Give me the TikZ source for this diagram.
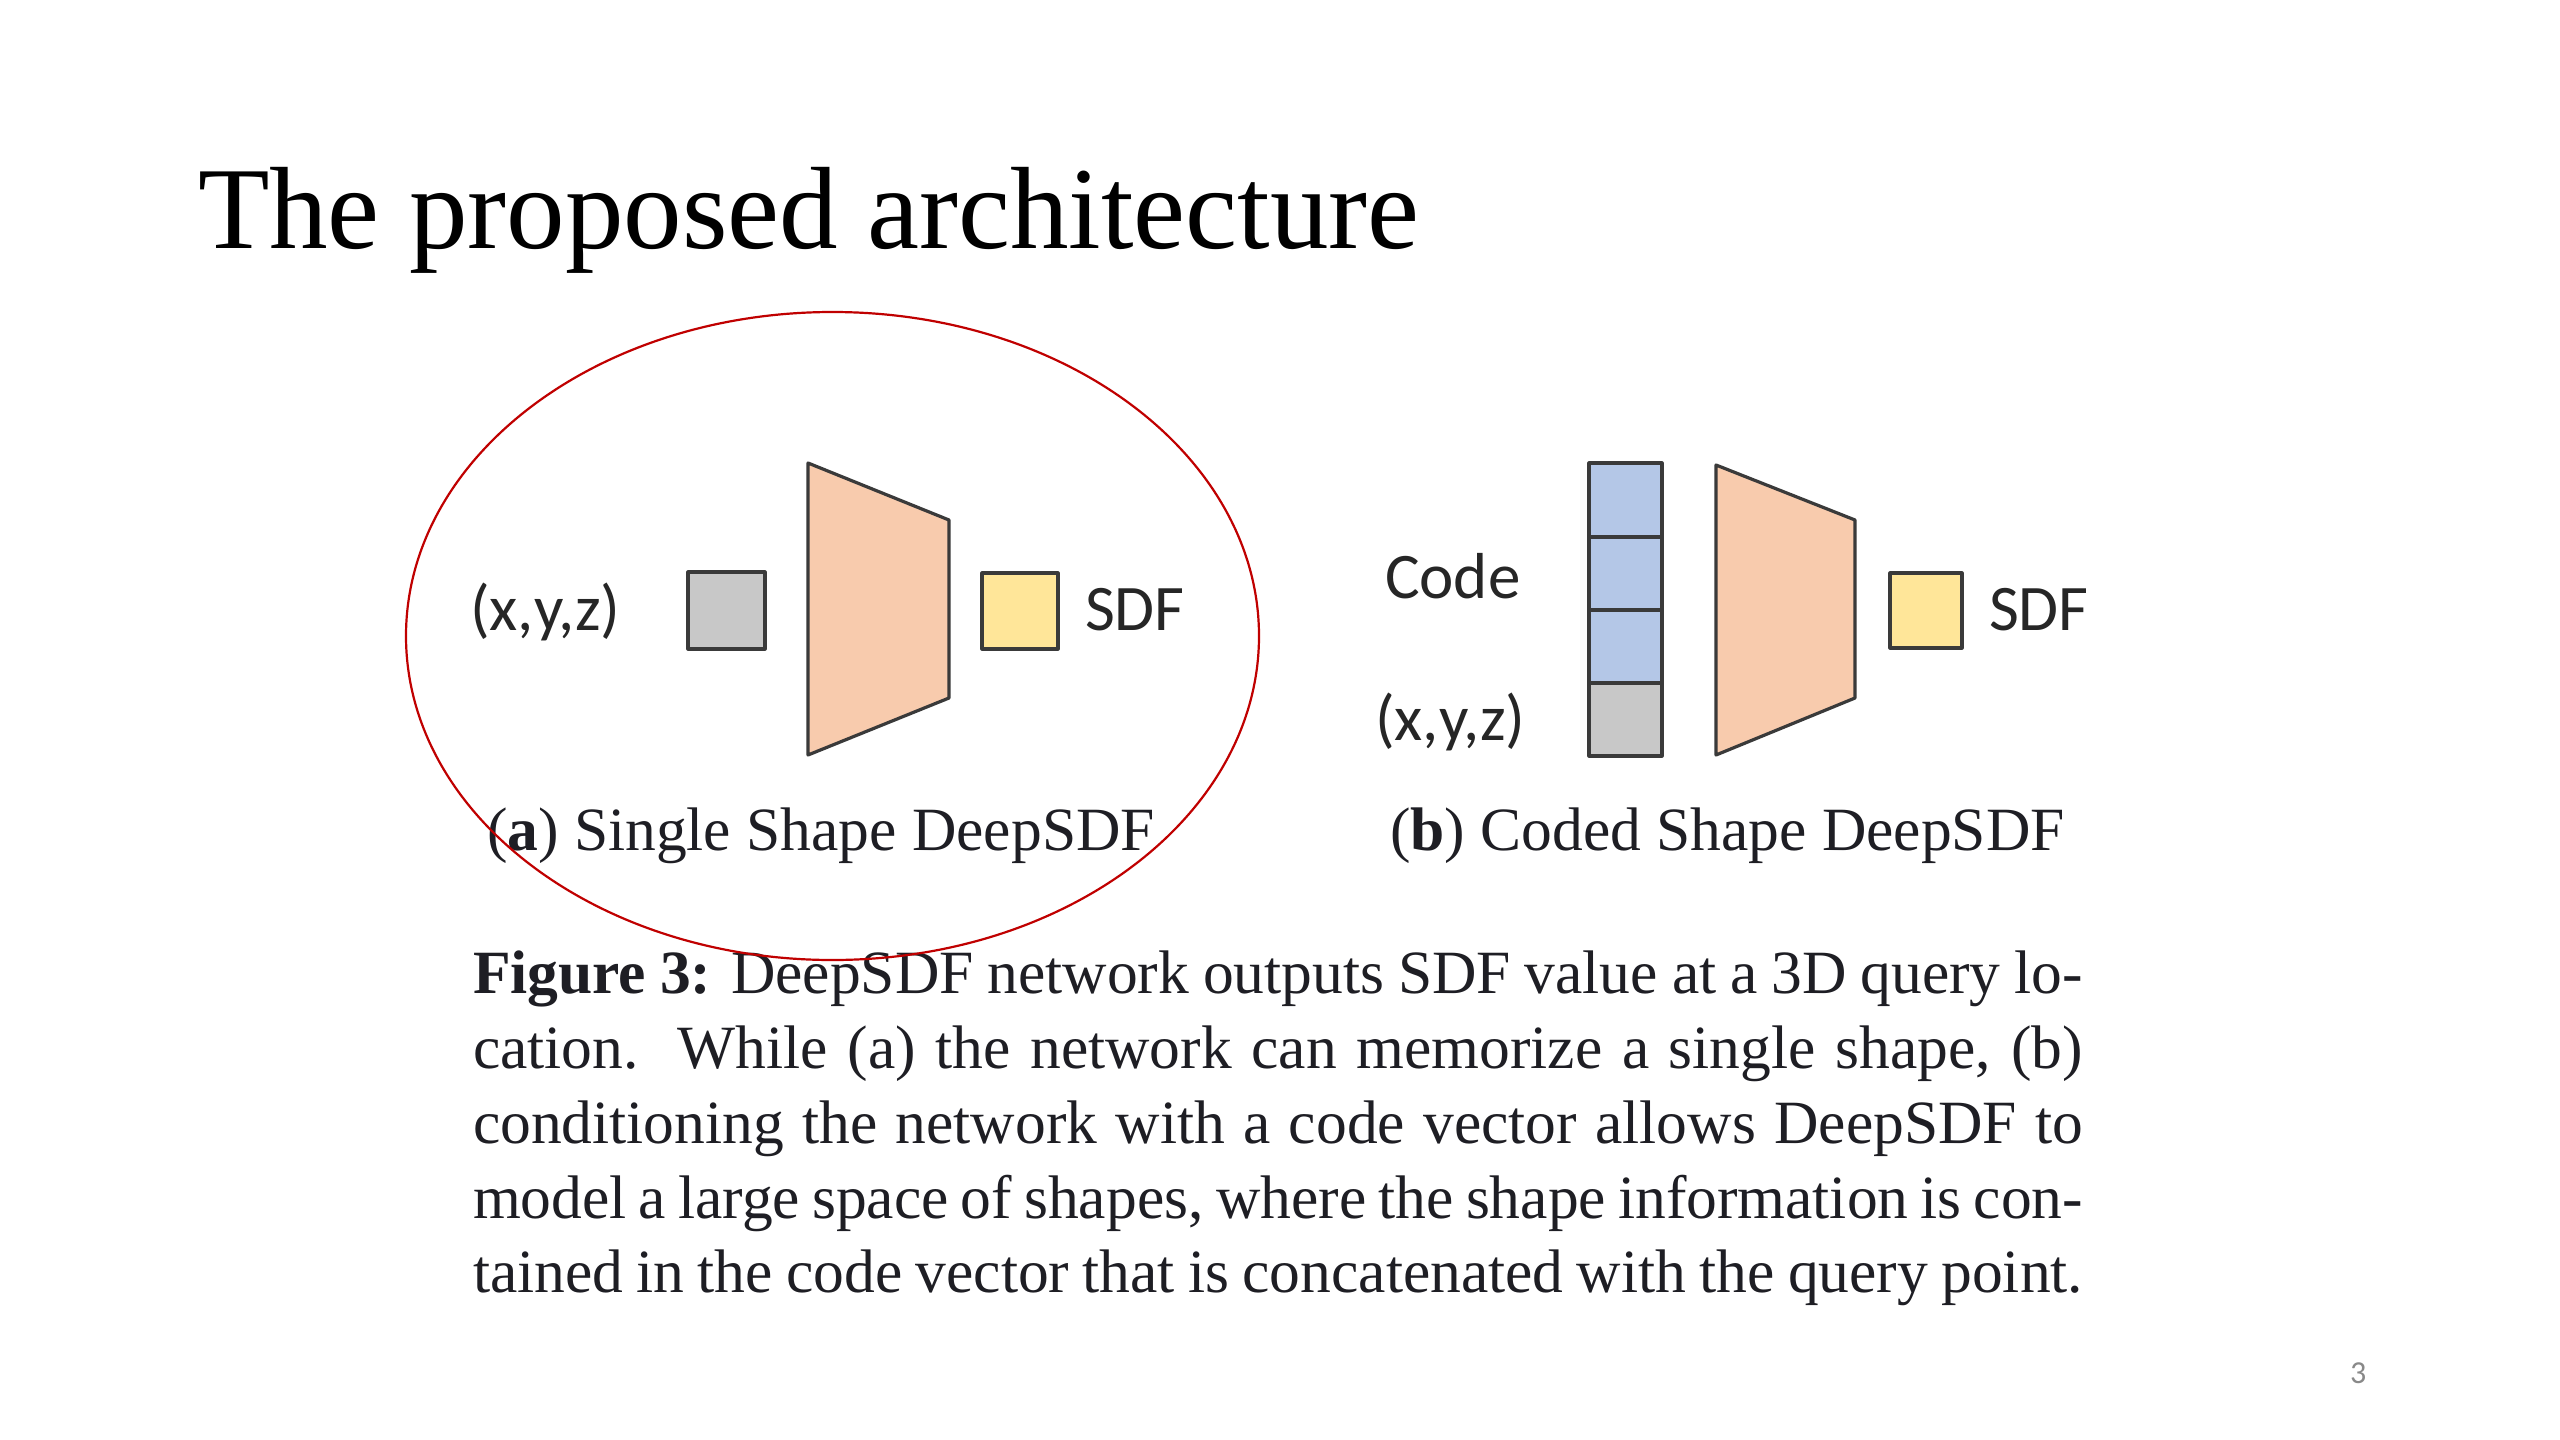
\documentclass[tikz,border=0pt]{standalone}
\usepackage{fontspec}
\setmainfont{Liberation Serif}
\newfontfamily\calibri{Carlito}
\begin{document}
\begin{tikzpicture}[x=1pt,y=-1pt,
  txt/.style={inner sep=0pt,outer sep=0pt,anchor=base west},
  lbl/.style={txt,font=\calibri\fontsize{65}{72}\selectfont,text=labelgray},
  sub/.style={txt,font=\fontsize{61.5}{70}\selectfont,text=inkdark},
  capline/.style={txt,font=\fontsize{61.5}{70}\selectfont,text=inkdark},
  cell/.style={draw=edgegray,line width=3.2pt,line join=round},
  net/.style={draw=edgegray,line width=3.2pt,line join=round,fill=netpeach}]
\definecolor{edgegray}{HTML}{3A3A3A}
\definecolor{labelgray}{HTML}{262626}
\definecolor{inkdark}{HTML}{1E1E24}
\definecolor{xyzgray}{HTML}{C8C8C8}
\definecolor{codeblue}{HTML}{B4C7E7}
\definecolor{netpeach}{HTML}{F8CBAD}
\definecolor{sdfyellow}{HTML}{FFE699}
\definecolor{ringred}{HTML}{C00000}
\definecolor{numgray}{HTML}{898989}

\useasboundingbox (0,0) rectangle (2560,1440);
\fill[white] (0,0) rectangle (2560,1440);

% slide title
\node[txt,font=\fontsize{117}{130}\selectfont] (title) at (198,248) {The proposed architecture};

% (a) single shape network
\node[lbl] (axyz) at (470,630) {(x,y,z)};
\filldraw[cell,fill=xyzgray] (688,572) rectangle (765,649);
\coordinate (ain) at (726.5,610.5);
\filldraw[net] (808,463) -- (949,520) -- (949,698) -- (808,755) -- cycle;
\coordinate (anet) at (878,609);
\filldraw[cell,fill=sdfyellow] (982,573) rectangle (1058,649);
\coordinate (aout) at (1020,611);
\node[lbl] (asdf) at (1085,630) {SDF};
\node[sub] (asub) at (487,850) {(\textbf{a}) Single Shape DeepSDF};

% (b) coded shape network
\node[lbl] (bcode) at (1385,598) {Code};
\node[lbl] (bxyz) at (1375,740) {(x,y,z)};
\filldraw[cell,fill=codeblue] (1589,463) rectangle (1662,537);
\filldraw[cell,fill=codeblue] (1589,537) rectangle (1662,610);
\filldraw[cell,fill=codeblue] (1589,610) rectangle (1662,683);
\filldraw[cell,fill=xyzgray] (1589,683) rectangle (1662,756);
\coordinate (bvec) at (1625.5,609.5);
\filldraw[net] (1716,465) -- (1855,520) -- (1855,698) -- (1716,755) -- cycle;
\coordinate (bnet) at (1785,610);
\filldraw[cell,fill=sdfyellow] (1890,573) rectangle (1962,648);
\coordinate (bout) at (1926,610.5);
\node[lbl] (bsdf) at (1989,630) {SDF};
\node[sub] (bsub) at (1390,850) {(\textbf{b}) Coded Shape DeepSDF};

% figure caption, justified line by line
\node[capline] (c1) at (473,993)  {\makebox[1610pt][s]{\textbf{Figure 3:} DeepSDF network outputs SDF value at a 3D query lo-}};
\node[capline] (c2) at (473,1068) {\makebox[1610pt][s]{cation.\ \ While (a) the network can memorize a single shape, (b)}};
\node[capline] (c3) at (473,1143) {\makebox[1610pt][s]{conditioning the network with a code vector allows DeepSDF to}};
\node[capline] (c4) at (473,1218) {\makebox[1610pt][s]{model a large space of shapes, where the shape information is con-}};
\node[capline] (c5) at (473,1292) {\makebox[1610pt][s]{tained in the code vector that is concatenated with the query point.}};

% highlight ring around panel (a)
\draw[ringred,line width=2.2pt] (832.5,636) ellipse [x radius=426.5, y radius=324];

% page number
\node[txt,font=\calibri\fontsize{32}{38}\selectfont,text=numgray] (pageno) at (2350,1383) {3};
\end{tikzpicture}
\end{document}
